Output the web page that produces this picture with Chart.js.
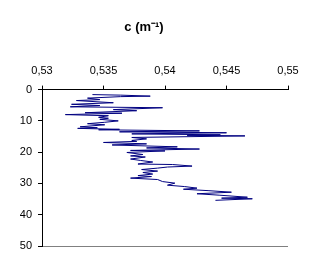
<!DOCTYPE html>
<html>
<head>
<meta charset="utf-8">
<script src="https://cdn.jsdelivr.net/npm/chart.js@4"></script>
<style>
  html, body { margin: 0; padding: 0; background: #fff; }
  #wrap { width: 321px; height: 273px; }
</style>
</head>
<body>
<div id="wrap"><canvas id="cChart" width="321" height="273"></canvas></div>
<script>
const titleText = "c (m\u207B\u00B9)";
const xTickLabels = ["0,53", "0,535", "0,54", "0,545", "0,55"];
const yTickLabels = ["0", "10", "20", "30", "40", "50"];

// attenuation c (m-1)
const cValues = [
  0.5341, 0.5364, 0.5388, 0.5364, 0.5337, 0.5347, 0.5328, 0.5358, 0.5324, 0.5347,
  0.5323, 0.5398, 0.5358, 0.5377, 0.5335, 0.5365, 0.5319, 0.5354, 0.5346, 0.5354,
  0.5347, 0.5362, 0.5351, 0.5337, 0.5351, 0.5331, 0.5345, 0.5329, 0.5363, 0.5346,
  0.5428, 0.5363, 0.5450, 0.5373, 0.5445, 0.5418, 0.5465, 0.5373, 0.5385, 0.5373,
  0.5377, 0.5350, 0.5385, 0.5357, 0.5410, 0.5385, 0.5428, 0.5372, 0.5400, 0.5369,
  0.5382, 0.5372, 0.5384, 0.5372, 0.5380, 0.5390, 0.5378, 0.5406, 0.5422, 0.5402,
  0.5394, 0.5381, 0.5394, 0.5382, 0.5390, 0.5378, 0.5389, 0.5372, 0.5394, 0.5398,
  0.5408, 0.5402, 0.5416, 0.5426, 0.5415, 0.5435, 0.5454, 0.5426, 0.5444, 0.5467,
  0.5446, 0.5471, 0.5441
];
// depth (m)
const depths = [
  1.6, 1.77, 2.09, 2.25, 2.73, 3.2, 3.5, 4.2, 4.7, 5.1,
  5.5, 5.8, 6.4, 6.75, 7.4, 7.55, 8.0, 8.35, 8.85, 9.15,
  9.5, 10.0, 10.45, 10.9, 11.25, 11.9, 12.2, 12.4, 12.7, 12.85,
  13.2, 13.5, 13.8, 14.15, 14.45, 14.6, 14.8, 15.3, 15.75, 16.25,
  16.55, 16.9, 17.35, 17.7, 18.3, 18.65, 19.0, 19.45, 19.6, 20.1,
  20.75, 21.2, 21.55, 22.2, 22.65, 23.15, 23.8, 23.95, 24.45, 24.75,
  25.1, 25.55, 26.05, 26.5, 27.0, 27.5, 27.8, 28.3, 28.75, 29.4,
  29.9, 30.55, 31.0, 31.5, 31.85, 32.3, 32.8, 33.3, 33.75, 34.4,
  34.7, 34.9, 35.4
];

const pts = cValues.map((c, i) => ({ x: c, y: depths[i] }));

const ctx = document.getElementById("cChart").getContext("2d");
new Chart(ctx, {
  type: "scatter",
  data: {
    datasets: [
      {
        data: pts,
        showLine: true,
        borderColor: "#000080",
        borderWidth: 1,
        pointRadius: 0,
        tension: 0,
      },
    ],
  },
  options: {
    responsive: false,
    animation: false,
    layout: { padding: { left: 0, right: 33, top: 0, bottom: 27 } },
    plugins: {
      legend: { display: false },
      tooltip: { enabled: false },
      title: {
        display: true,
        text: titleText,
        color: "#000",
        font: { family: "Liberation Sans", size: 13, weight: "bold" },
        padding: { top: 20, bottom: 24 },
      },
    },
    scales: {
      x: {
        type: "linear",
        position: "top",
        min: 0.53,
        max: 0.55,
        afterFit: (s) => { s.height = 30; },
        ticks: {
          stepSize: 0.005,
          padding: 8,
          color: "#000",
          font: { family: "Liberation Sans", size: 11 },
          maxRotation: 0,
          callback: (v) => xTickLabels[Math.round((v - 0.53) / 0.005)],
        },
        grid: { drawOnChartArea: false, tickLength: 4, tickColor: "#000" },
        border: { color: "#000" },
      },
      y: {
        type: "linear",
        reverse: true,
        min: 0,
        max: 50,
        afterFit: (s) => { s.width = 42; },
        ticks: {
          stepSize: 10,
          padding: 6,
          color: "#000",
          font: { family: "Liberation Sans", size: 11 },
          callback: (v) => yTickLabels[Math.round(v / 10)],
        },
        grid: {
          tickLength: 4,
          tickColor: "#000",
          color: (c) => (c.tick && c.tick.value === 50 ? "#808080" : "rgba(0,0,0,0)"),
        },
        border: { color: "#000" },
      },
    },
  },
});
</script>
</body>
</html>
